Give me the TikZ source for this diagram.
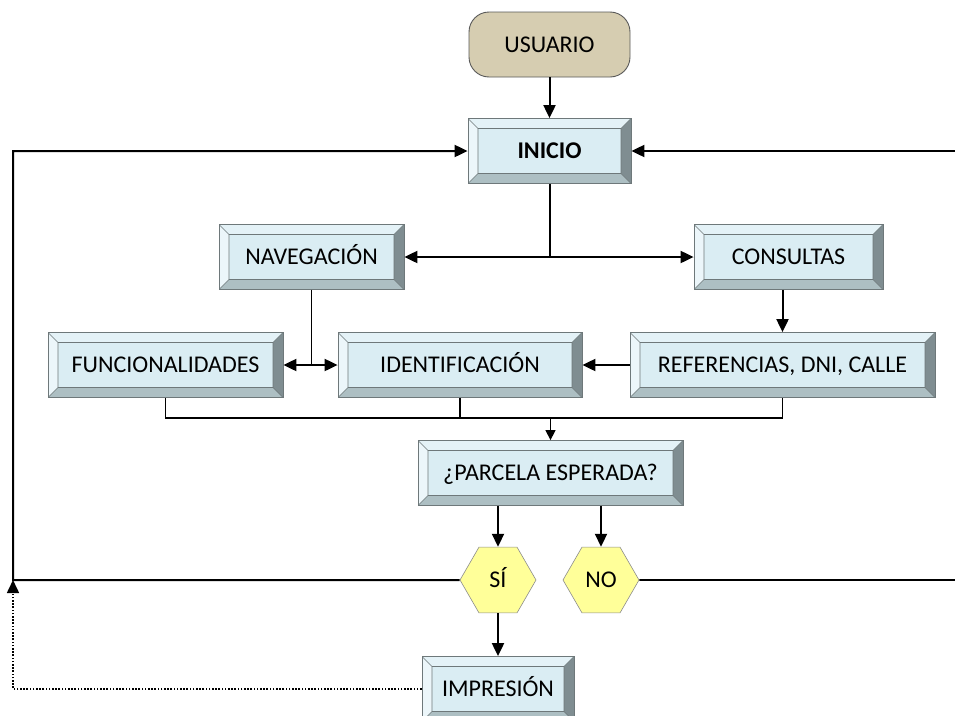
\documentclass[tikz,border=0pt]{standalone}
\usepackage{fontspec}
\setmainfont{Carlito}
\usetikzlibrary{arrows.meta, calc, shapes.geometric, positioning}

\definecolor{bevface}{RGB}{218,237,243}
\definecolor{bevtop}{RGB}{228,242,247}
\definecolor{bevleft}{RGB}{236,246,250}
\definecolor{bevbot}{RGB}{173,191,195}
\definecolor{bevright}{RGB}{127,141,145}
\definecolor{bevline}{RGB}{110,120,122}
\definecolor{usrfill}{RGB}{214,205,177}
\definecolor{hexfill}{RGB}{255,255,153}
\newcommand{\bevw}{10pt}
\newcommand{\boxfont}{\fontsize{24}{28}\selectfont}

\tikzset{
  bevel/.style={draw=bevline, line width=0.8pt, fill=bevface, inner sep=0pt,
    minimum height=65pt, font=\boxfont, text height=19pt, text depth=4pt,
    path picture={
      \coordinate (bvA) at (path picture bounding box.north west);
      \coordinate (bvB) at (path picture bounding box.north east);
      \coordinate (bvC) at (path picture bounding box.south east);
      \coordinate (bvD) at (path picture bounding box.south west);
      \coordinate (bva) at ($(bvA)+(\bevw,-\bevw)$);
      \coordinate (bvb) at ($(bvB)+(-\bevw,-\bevw)$);
      \coordinate (bvc) at ($(bvC)+(-\bevw,\bevw)$);
      \coordinate (bvd) at ($(bvD)+(\bevw,\bevw)$);
      \fill[bevtop] (bvA) -- (bvB) -- (bvb) -- (bva) -- cycle;
      \fill[bevleft] (bvA) -- (bva) -- (bvd) -- (bvD) -- cycle;
      \fill[bevbot] (bvD) -- (bvd) -- (bvc) -- (bvC) -- cycle;
      \fill[bevright] (bvB) -- (bvC) -- (bvc) -- (bvb) -- cycle;
      \draw[bevline, line width=0.6pt] (bva) rectangle (bvc)
        (bvA) -- (bva) (bvB) -- (bvb) (bvC) -- (bvc) (bvD) -- (bvd);
    }},
  usr/.style={draw=black!65, line width=0.9pt, fill=usrfill, rounded corners=20pt,
    minimum width=161pt, minimum height=65pt, font=\boxfont,
    text height=19pt, text depth=4pt, inner sep=0pt},
  hexa/.style={regular polygon, regular polygon sides=6, draw=black!45, line width=0.6pt,
    fill=hexfill, minimum size=76pt, inner sep=0pt, font=\boxfont,
    text height=19pt, text depth=4pt},
  arr/.style={line width=2pt, -{Triangle[length=13pt,width=12pt]}},
  bus/.style={line width=1.3pt},
}

\begin{document}
\begin{tikzpicture}[x=1pt, y=-1pt]
  \useasboundingbox (0,0) rectangle (955,715);
  % boxes
  \node[usr] (usuario) at (549.5,44.5) {USUARIO};
  \node[bevel, minimum width=163pt, font=\boxfont\bfseries] (inicio) at (549.5,151) {INICIO};
  \node[bevel, minimum width=185pt] (naveg) at (311.5,257) {NAVEGACIÓN};
  \node[bevel, minimum width=189pt] (consul) at (788.5,257) {CONSULTAS};
  \node[bevel, minimum width=235pt] (funcio) at (165.5,365) {FUNCIONALIDADES};
  \node[bevel, minimum width=244pt] (ident) at (460,365) {IDENTIFICACIÓN};
  \node[bevel, minimum width=305pt] (refer) at (782.5,365) {REFERENCIAS, DNI, CALLE};
  \node[bevel, minimum width=265pt] (parcela) at (550.5,473) {¿PARCELA ESPERADA?};
  \node[hexa] (si) at (498,580) {SÍ};
  \node[hexa] (no) at (601,580) {NO};
  \node[bevel, minimum width=152pt] (impr) at (498,689) {IMPRESIÓN};
  % helper points
  \coordinate (split1) at (inicio.south |- naveg.east);
  \coordinate (split2) at (naveg.south |- funcio.east);
  \coordinate (join) at ($(parcela.north)+(0,-22)$);
  \coordinate (leftlow) at (13,580);
  \coordinate (rightlow) at (955,580);
  \coordinate (righthigh) at (955,151);
  % connectors
  \draw[arr] (usuario) -- (inicio);
  \draw[line width=2pt] (inicio.south) -- (split1);
  \draw[arr] (split1) -- (naveg.east);
  \draw[arr] (split1) -- (consul.west);
  \draw[line width=1.6pt] (naveg.south) -- (split2);
  \draw[arr] (split2) -- (funcio.east);
  \draw[arr] (split2) -- (ident.west);
  \draw[arr] (refer.north |- consul.south) -- (refer.north);
  \draw[arr] (refer.west) -- (ident.east);
  \draw[bus] (funcio.south) |- (join) -| (refer.south);
  \draw[bus] (ident.south) -- (ident.south |- join);
  \draw[bus, -{Triangle[length=10pt,width=10pt]}] (join) -- (parcela.north);
  \draw[arr] (parcela.south -| si.north) -- (si.north);
  \draw[arr] (parcela.south -| no.north) -- (no.north);
  \draw[arr] (si.south) -- (si.south |- impr.north);
  % return lines
  \draw[arr] (si.west) -- (leftlow) |- (inicio.west);
  \draw[line width=1.6pt, dash pattern=on 1.6pt off 1.6pt, -{Triangle[length=13pt,width=12pt]}] (impr.west) -| (leftlow);
  \draw[line width=1.6pt] (no.east) -- (rightlow);
  \draw[arr] (righthigh) -- (inicio.east);
\end{tikzpicture}
\end{document}
